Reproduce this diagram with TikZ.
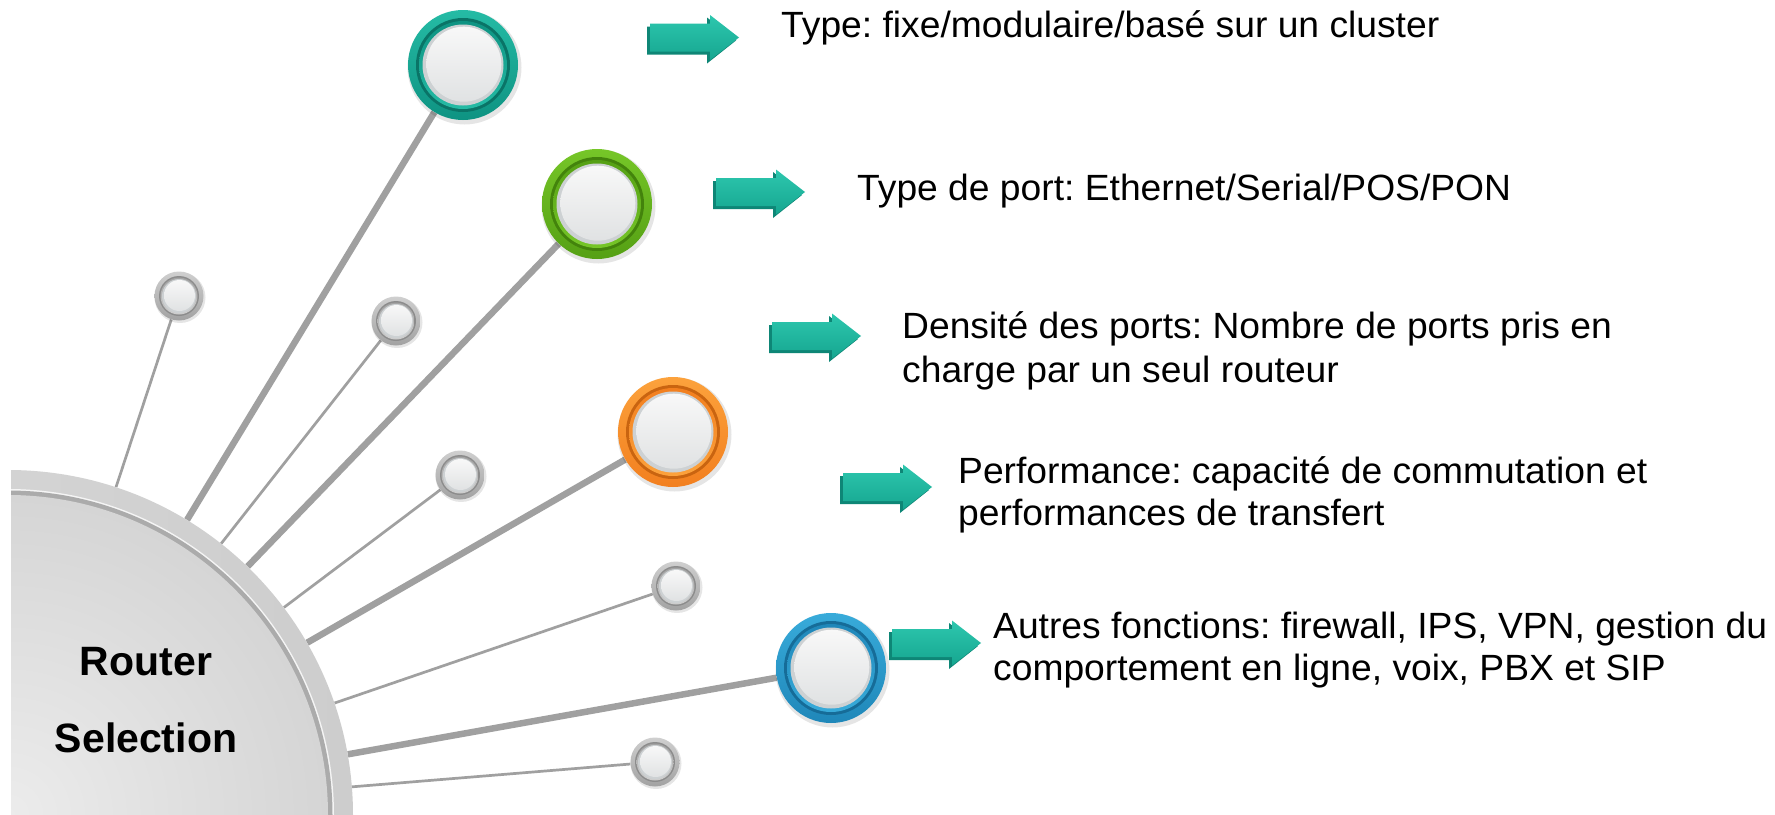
\documentclass[tikz,border=0pt]{standalone}
\usepackage{fontspec}
\setmainfont{Liberation Sans}
\newfontfamily\labelfont[FakeStretch=1.02]{Liberation Sans}
\frenchspacing
\definecolor{tealA}{HTML}{25BBA5}
\definecolor{tealB}{HTML}{0E9382}
\definecolor{tealD}{HTML}{0A7467}
\definecolor{greenA}{HTML}{76C628}
\definecolor{greenB}{HTML}{55A014}
\definecolor{greenD}{HTML}{43830C}
\definecolor{orangeA}{HTML}{FCA23C}
\definecolor{orangeB}{HTML}{F27F1F}
\definecolor{orangeD}{HTML}{C96410}
\definecolor{blueA}{HTML}{38ABDA}
\definecolor{blueB}{HTML}{1F87B9}
\definecolor{blueD}{HTML}{166C98}
\definecolor{grayA}{HTML}{CFCFCF}
\definecolor{grayB}{HTML}{A2A2A2}
\definecolor{grayD}{HTML}{8C8C8C}
\definecolor{spoke}{HTML}{A0A0A0}
\definecolor{faceEdge}{HTML}{CDD1D3}
\definecolor{faceTop}{HTML}{F8F8F8}
\definecolor{faceBot}{HTML}{E0E2E3}
\definecolor{rimL}{HTML}{DADADA}
\definecolor{rimR}{HTML}{CDCDCD}
\definecolor{band}{HTML}{ABABAB}
\definecolor{hubIn}{HTML}{ECECEC}
\definecolor{hubOut}{HTML}{D5D5D5}
\definecolor{arrTop}{HTML}{2DC7AE}
\definecolor{arrBot}{HTML}{16A690}
\definecolor{arrSide}{HTML}{0E8676}
\tikzset{
  sat/.style={circle, minimum size=110pt, inner sep=0pt},
  smallsat/.style={circle, minimum size=49pt, inner sep=0pt},
  thickspoke/.style={draw=spoke, line width=6.5pt},
  thinspoke/.style={draw=spoke, line width=2.7pt},
  label/.style={anchor=base west, inner sep=0pt, font=\labelfont\fontsize{36.5}{43}\selectfont, text=black},
  hubtext/.style={anchor=base, inner sep=0pt, font=\fontsize{41}{48}\selectfont\bfseries, text=black},
}
\newcommand\bigdeco[2]{%
  \fill[black, opacity=0.10] ([shift={(1.5,2.5)}]#1.center) circle (57);
  \shade[top color=#2A, bottom color=#2B] (#1.center) circle (55);
  \fill[#2D] (#1.center) circle (47);
  \shade[top color=#2B, bottom color=#2A] (#1.center) circle (44);
  \fill[faceEdge] (#1.center) circle (40.5);
  \shade[top color=faceTop, bottom color=faceBot] ([shift={(0.8,-0.8)}]#1.center) circle (37.5);
}
\newcommand\smalldeco[1]{%
  \fill[black, opacity=0.10] ([shift={(1,1.5)}]#1.center) circle (25.5);
  \shade[top color=grayA, bottom color=grayB] (#1.center) circle (24.5);
  \fill[grayD] (#1.center) circle (20);
  \shade[top color=grayB, bottom color=grayA] (#1.center) circle (18.5);
  \fill[faceEdge] (#1.center) circle (17);
  \shade[top color=faceTop, bottom color=faceBot] ([shift={(0.5,-0.5)}]#1.center) circle (15.5);
}
\newcommand\blockarrow[3]{%
  \coordinate (#1) at (#2,#3);
  \begin{scope}[shift={(#1)}]
    \fill[arrSide] (-3,-11) -- (57,-11) -- (57,-20) -- (86,3) -- (57,26) -- (57,17) -- (-3,17) -- cycle;
    \shade[top color=arrTop, bottom color=arrBot] (0,-14) -- (60,-14) -- (60,-22.5) -- (89,0) -- (60,22.5) -- (60,14) -- (0,14) -- cycle;
  \end{scope}
}
\begin{document}
\begin{tikzpicture}[x=1pt, y=-1pt]
\useasboundingbox (0,0) rectangle (1775,814);
\fill[white] (0,0) rectangle (1775,814);
% nodes
\node[circle, minimum size=690pt, inner sep=0pt] (hub) at (8,815) {};
\node[sat] (c1) at (463,65) {};
\node[sat] (c2) at (597,204) {};
\node[sat] (c3) at (673,432) {};
\node[sat] (c4) at (831,668) {};
\node[smallsat] (s1) at (179,296) {};
\node[smallsat] (s2) at (396,321) {};
\node[smallsat] (s3) at (460,475) {};
\node[smallsat] (s4) at (676,586) {};
\node[smallsat] (s5) at (655,762) {};
% spokes
\draw[thinspoke] (hub) -- (s1);
\draw[thickspoke] (hub) -- (c1);
\draw[thinspoke] (hub) -- (s2);
\draw[thickspoke] (hub) -- (c2);
\draw[thinspoke] (hub) -- (s3);
\draw[thickspoke] (hub) -- (c3);
\draw[thinspoke] (hub) -- (s4);
\draw[thickspoke] (hub) -- (c4);
\draw[thinspoke] (hub) -- (s5);
% hub
\begin{scope}
  \clip (11,0) rectangle (1775,814);
  \shade[left color=rimL, right color=rimR] (hub.center) circle (345);
  \fill[white!80!rimR] (hub.center) circle (326);
  \fill[band] (hub.center) circle (324.5);
  \shade[inner color=hubIn, outer color=hubOut] (hub.center) circle (320);
\end{scope}
\node[hubtext] (h1) at (146,675) {Router};
\node[hubtext] (h2) at (146,752) {Selection};
% satellites
\bigdeco{c1}{teal}
\bigdeco{c2}{green}
\bigdeco{c3}{orange}
\bigdeco{c4}{blue}
\smalldeco{s1}
\smalldeco{s2}
\smalldeco{s3}
\smalldeco{s4}
\smalldeco{s5}
% arrows
\blockarrow{a1}{650}{37.5}
\blockarrow{a2}{716}{192}
\blockarrow{a3}{772}{336}
\blockarrow{a4}{843}{487}
\blockarrow{a5}{892}{643}
% texts
\node[label] (t1) at (781,37) {Type: fixe/modulaire/basé sur un cluster};
\node[label] (t2) at (857,200) {Type de port: Ethernet/Serial/POS/PON};
\node[label] (t3a) at (902,338) {Densité des ports: Nombre de ports pris en};
\node[label] (t3b) at (902,382) {charge par un seul routeur};
\node[label] (t4a) at (958,483) {Performance: capacité de commutation et};
\node[label] (t4b) at (958,525) {performances de transfert};
\node[label] (t5a) at (993,638) {Autres fonctions: firewall, IPS, VPN, gestion du};
\node[label] (t5b) at (993,680) {comportement en ligne, voix, PBX et SIP};
\end{tikzpicture}
\end{document}
